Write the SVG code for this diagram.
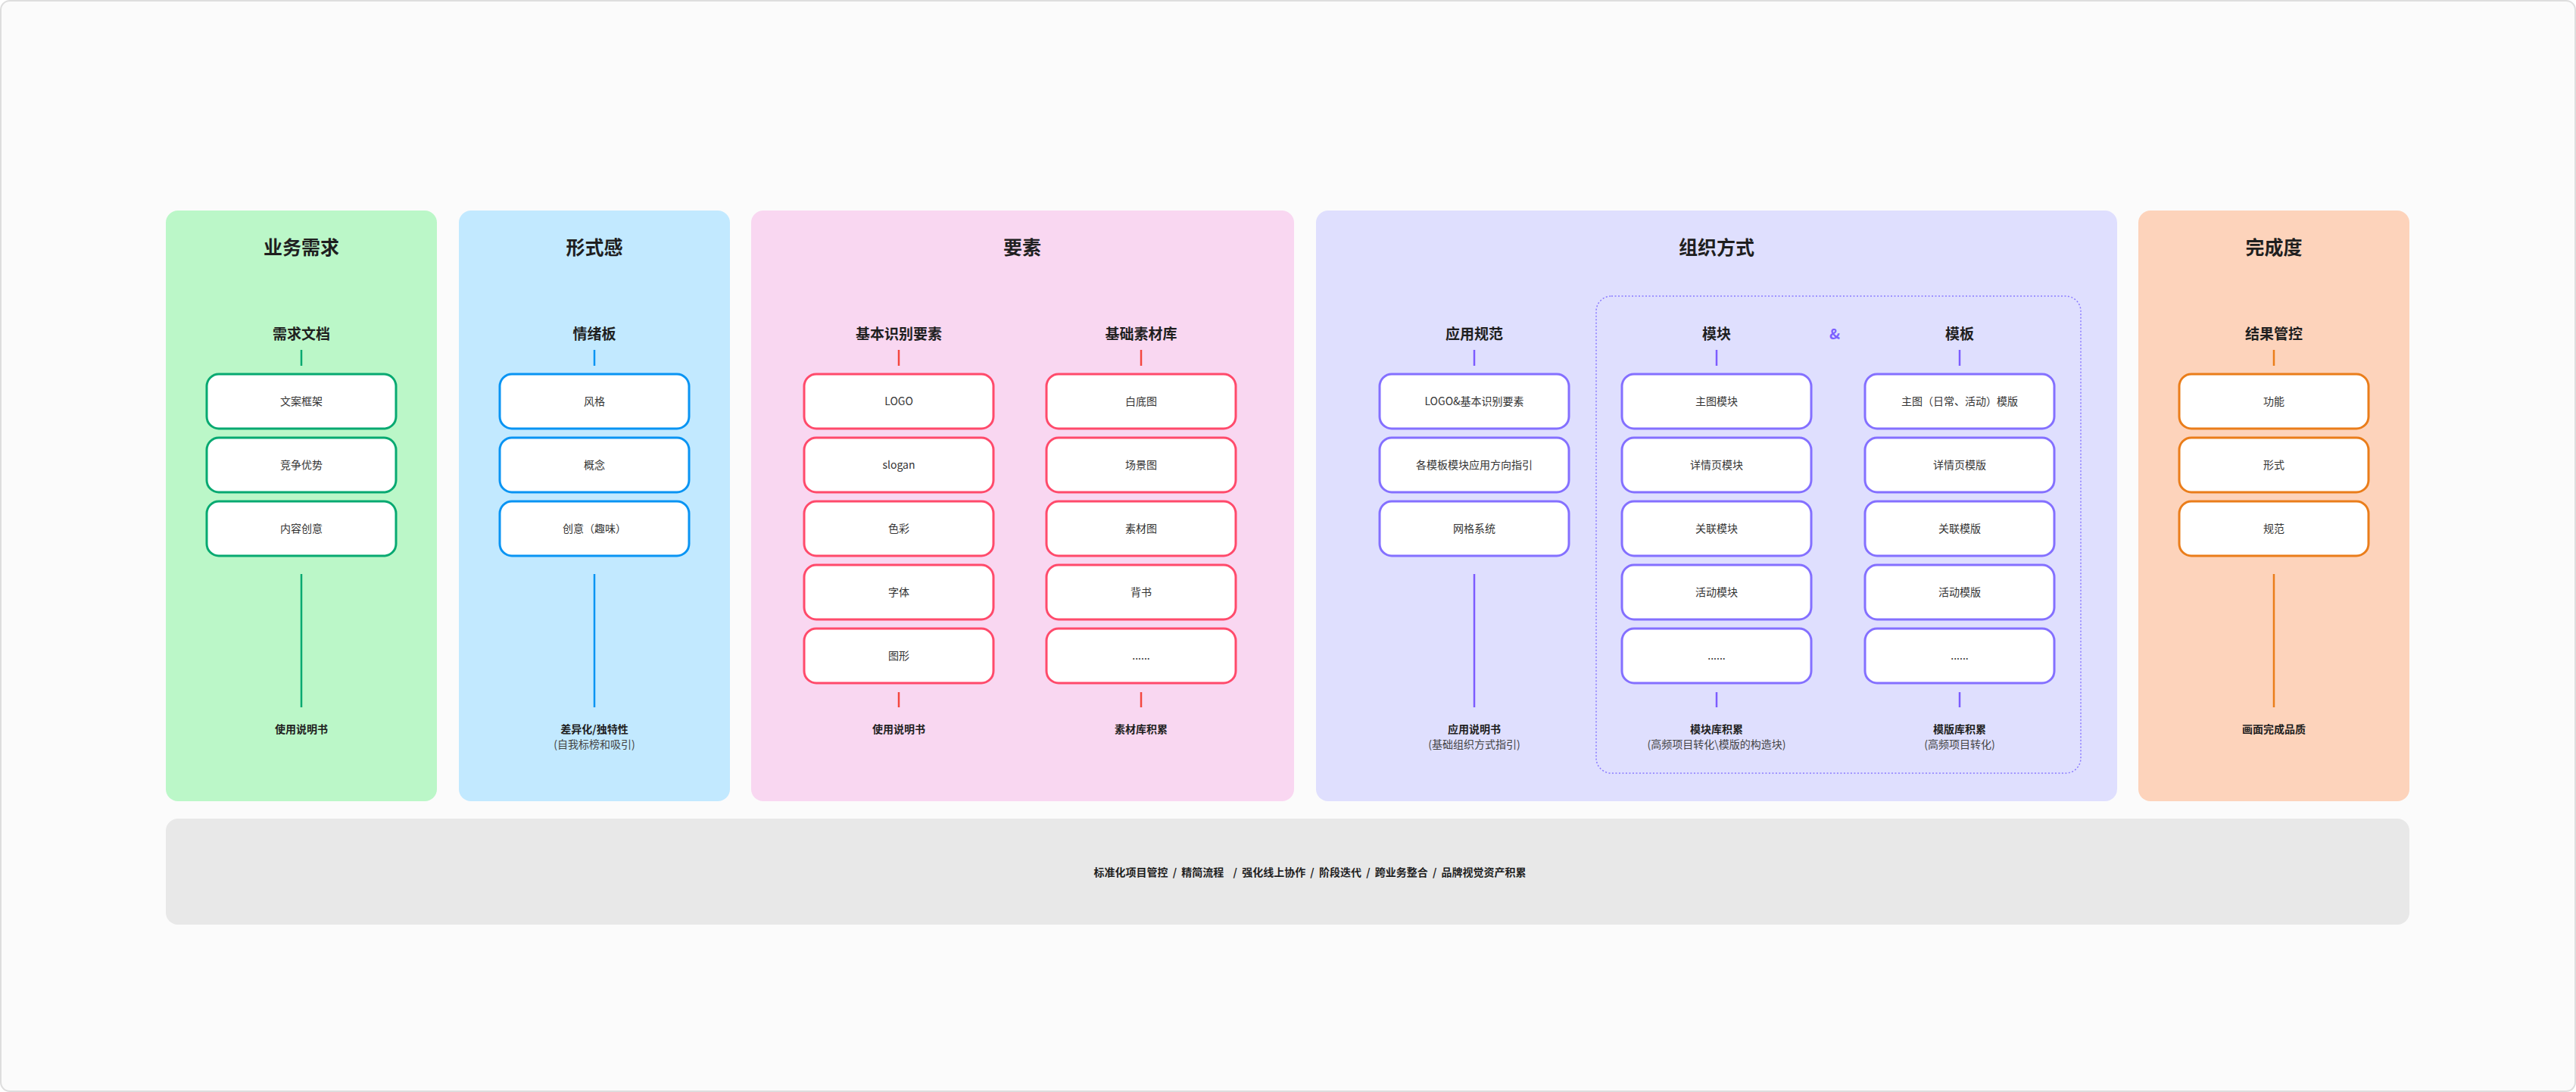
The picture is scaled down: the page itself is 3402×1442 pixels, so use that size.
<svg xmlns="http://www.w3.org/2000/svg" width="3402" height="1442" viewBox="0 0 3402 1442">
<style>
text{font-family:"Noto Sans CJK SC","Noto Sans",sans-serif;text-anchor:middle;fill:#1f1f1f}
.title{font-size:25px;font-weight:700}
.sub{font-size:19px;font-weight:700}
.item{font-size:14px;fill:#333}
.lab{font-size:14px;font-weight:700}
.lab2{font-size:14px;fill:#444}
.box{fill:#fff;stroke-width:3}
.g .box{stroke:#07a971}.b .box{stroke:#0994f3}.p .box{stroke:#ff4a6b}.v .box{stroke:#8470ff}.o .box{stroke:#ea7d1a}
.c line{stroke-width:2.5}
</style>
<rect x="1" y="1" width="3400" height="1440" rx="12" fill="#fbfbfb" stroke="#dedede" stroke-width="2"/>

<g id="panel-yewu" class="g">
<rect x="219" y="278" width="358" height="780" rx="16" fill="#bbf7c8"/>
<text class="title" x="398" y="336">业务需求</text>
<text class="sub" x="398" y="448">需求文档</text>
<g id="n-wenan"><rect class="box" x="273" y="494" width="250" height="72" rx="16"/><text class="item" x="398" y="535">文案框架</text></g>
<g id="n-jingzheng"><rect class="box" x="273" y="578" width="250" height="72" rx="16"/><text class="item" x="398" y="619">竞争优势</text></g>
<g id="n-neirong"><rect class="box" x="273" y="662" width="250" height="72" rx="16"/><text class="item" x="398" y="703">内容创意</text></g>
<text class="lab" x="398" y="968">使用说明书</text>
</g>

<g id="panel-xingshi" class="b">
<rect x="606" y="278" width="358" height="780" rx="16" fill="#c2e9ff"/>
<text class="title" x="785" y="336">形式感</text>
<text class="sub" x="785" y="448">情绪板</text>
<g id="n-fengge"><rect class="box" x="660" y="494" width="250" height="72" rx="16"/><text class="item" x="785" y="535">风格</text></g>
<g id="n-gainian"><rect class="box" x="660" y="578" width="250" height="72" rx="16"/><text class="item" x="785" y="619">概念</text></g>
<g id="n-chuangyi"><rect class="box" x="660" y="662" width="250" height="72" rx="16"/><text class="item" x="785" y="703">创意（趣味）</text></g>
<text class="lab" x="785" y="968">差异化/独特性</text>
<text class="lab2" x="785" y="988">(自我标榜和吸引)</text>
</g>

<g id="panel-yaosu" class="p">
<rect x="992" y="278" width="717" height="780" rx="16" fill="#f9d7f1"/>
<text class="title" x="1350" y="336">要素</text>
<text class="sub" x="1187" y="448">基本识别要素</text>
<text class="sub" x="1507" y="448">基础素材库</text>
<g id="n-logo"><rect class="box" x="1062" y="494" width="250" height="72" rx="16"/><text class="item" x="1187" y="535">LOGO</text></g>
<g id="n-slogan"><rect class="box" x="1062" y="578" width="250" height="72" rx="16"/><text class="item" x="1187" y="619">slogan</text></g>
<g id="n-secai"><rect class="box" x="1062" y="662" width="250" height="72" rx="16"/><text class="item" x="1187" y="703">色彩</text></g>
<g id="n-ziti"><rect class="box" x="1062" y="746" width="250" height="72" rx="16"/><text class="item" x="1187" y="787">字体</text></g>
<g id="n-tuxing"><rect class="box" x="1062" y="830" width="250" height="72" rx="16"/><text class="item" x="1187" y="871">图形</text></g>
<g id="n-baidi"><rect class="box" x="1382" y="494" width="250" height="72" rx="16"/><text class="item" x="1507" y="535">白底图</text></g>
<g id="n-changjing"><rect class="box" x="1382" y="578" width="250" height="72" rx="16"/><text class="item" x="1507" y="619">场景图</text></g>
<g id="n-sucai"><rect class="box" x="1382" y="662" width="250" height="72" rx="16"/><text class="item" x="1507" y="703">素材图</text></g>
<g id="n-beishu"><rect class="box" x="1382" y="746" width="250" height="72" rx="16"/><text class="item" x="1507" y="787">背书</text></g>
<g id="n-more1"><rect class="box" x="1382" y="830" width="250" height="72" rx="16"/><text class="item" x="1507" y="871">......</text></g>
<text class="lab" x="1187" y="968">使用说明书</text>
<text class="lab" x="1507" y="968">素材库积累</text>
</g>

<g id="panel-zuzhi" class="v">
<rect x="1738" y="278" width="1058" height="780" rx="16" fill="#dfdffe"/>
<rect x="2108" y="391" width="640" height="630" rx="20" fill="none" stroke="#8b7bff" stroke-width="1.5" stroke-dasharray="2 2.5"/>
<text class="title" x="2267" y="336">组织方式</text>
<text class="sub" x="1947" y="448">应用规范</text>
<text class="sub" x="2267" y="448">模块</text>
<text class="sub" x="2423" y="448" style="fill:#7b61ff">&amp;</text>
<text class="sub" x="2588" y="448">模板</text>
<g id="n-logo2"><rect class="box" x="1822" y="494" width="250" height="72" rx="16"/><text class="item" x="1947" y="535">LOGO&amp;基本识别要素</text></g>
<g id="n-zhiyin"><rect class="box" x="1822" y="578" width="250" height="72" rx="16"/><text class="item" x="1947" y="619">各模板模块应用方向指引</text></g>
<g id="n-wangge"><rect class="box" x="1822" y="662" width="250" height="72" rx="16"/><text class="item" x="1947" y="703">网格系统</text></g>
<g id="n-zhutu-mk"><rect class="box" x="2142" y="494" width="250" height="72" rx="16"/><text class="item" x="2267" y="535">主图模块</text></g>
<g id="n-xq-mk"><rect class="box" x="2142" y="578" width="250" height="72" rx="16"/><text class="item" x="2267" y="619">详情页模块</text></g>
<g id="n-gl-mk"><rect class="box" x="2142" y="662" width="250" height="72" rx="16"/><text class="item" x="2267" y="703">关联模块</text></g>
<g id="n-hd-mk"><rect class="box" x="2142" y="746" width="250" height="72" rx="16"/><text class="item" x="2267" y="787">活动模块</text></g>
<g id="n-more-mk"><rect class="box" x="2142" y="830" width="250" height="72" rx="16"/><text class="item" x="2267" y="871">......</text></g>
<g id="n-zhutu-mb"><rect class="box" x="2463" y="494" width="250" height="72" rx="16"/><text class="item" x="2588" y="535">主图（日常、活动）模版</text></g>
<g id="n-xq-mb"><rect class="box" x="2463" y="578" width="250" height="72" rx="16"/><text class="item" x="2588" y="619">详情页模版</text></g>
<g id="n-gl-mb"><rect class="box" x="2463" y="662" width="250" height="72" rx="16"/><text class="item" x="2588" y="703">关联模版</text></g>
<g id="n-hd-mb"><rect class="box" x="2463" y="746" width="250" height="72" rx="16"/><text class="item" x="2588" y="787">活动模版</text></g>
<g id="n-more-mb"><rect class="box" x="2463" y="830" width="250" height="72" rx="16"/><text class="item" x="2588" y="871">......</text></g>
<text class="lab" x="1947" y="968">应用说明书</text>
<text class="lab2" x="1947" y="988">(基础组织方式指引)</text>
<text class="lab" x="2267" y="968">模块库积累</text>
<text class="lab2" x="2267" y="988">(高频项目转化\模版的构造块)</text>
<text class="lab" x="2588" y="968">模版库积累</text>
<text class="lab2" x="2588" y="988">(高频项目转化)</text>
</g>

<g id="panel-wancheng" class="o">
<rect x="2824" y="278" width="358" height="780" rx="16" fill="#fdd3bb"/>
<text class="title" x="3003" y="336">完成度</text>
<text class="sub" x="3003" y="448">结果管控</text>
<g id="n-gongneng"><rect class="box" x="2878" y="494" width="250" height="72" rx="16"/><text class="item" x="3003" y="535">功能</text></g>
<g id="n-xingshi"><rect class="box" x="2878" y="578" width="250" height="72" rx="16"/><text class="item" x="3003" y="619">形式</text></g>
<g id="n-guifan"><rect class="box" x="2878" y="662" width="250" height="72" rx="16"/><text class="item" x="3003" y="703">规范</text></g>
<text class="lab" x="3003" y="968">画面完成品质</text>
</g>

<g id="bottom-bar">
<rect x="219" y="1081" width="2963" height="140" rx="16" fill="#e8e8e8"/>
<text class="lab" x="1730" y="1157" xml:space="preserve" style="word-spacing:3px">标准化项目管控 / 精简流程  / 强化线上协作 / 阶段迭代 / 跨业务整合 / 品牌视觉资产积累</text>
</g>

<g id="connectors" class="c">
<line x1="398" y1="462" x2="398" y2="483" stroke="#07a971"/>
<line x1="398" y1="758" x2="398" y2="934" stroke="#07a971"/>
<line x1="785" y1="462" x2="785" y2="483" stroke="#0994f3"/>
<line x1="785" y1="758" x2="785" y2="934" stroke="#0994f3"/>
<line x1="1187" y1="462" x2="1187" y2="483" stroke="#f4473f"/>
<line x1="1187" y1="914" x2="1187" y2="934" stroke="#f4473f"/>
<line x1="1507" y1="462" x2="1507" y2="483" stroke="#f4473f"/>
<line x1="1507" y1="914" x2="1507" y2="934" stroke="#f4473f"/>
<line x1="1947" y1="462" x2="1947" y2="483" stroke="#7c5cff"/>
<line x1="1947" y1="758" x2="1947" y2="934" stroke="#7c5cff"/>
<line x1="2267" y1="462" x2="2267" y2="483" stroke="#7c5cff"/>
<line x1="2267" y1="914" x2="2267" y2="934" stroke="#7c5cff"/>
<line x1="2588" y1="462" x2="2588" y2="483" stroke="#7c5cff"/>
<line x1="2588" y1="914" x2="2588" y2="934" stroke="#7c5cff"/>
<line x1="3003" y1="462" x2="3003" y2="483" stroke="#ea7d1a"/>
<line x1="3003" y1="758" x2="3003" y2="934" stroke="#ea7d1a"/>
</g>
</svg>
